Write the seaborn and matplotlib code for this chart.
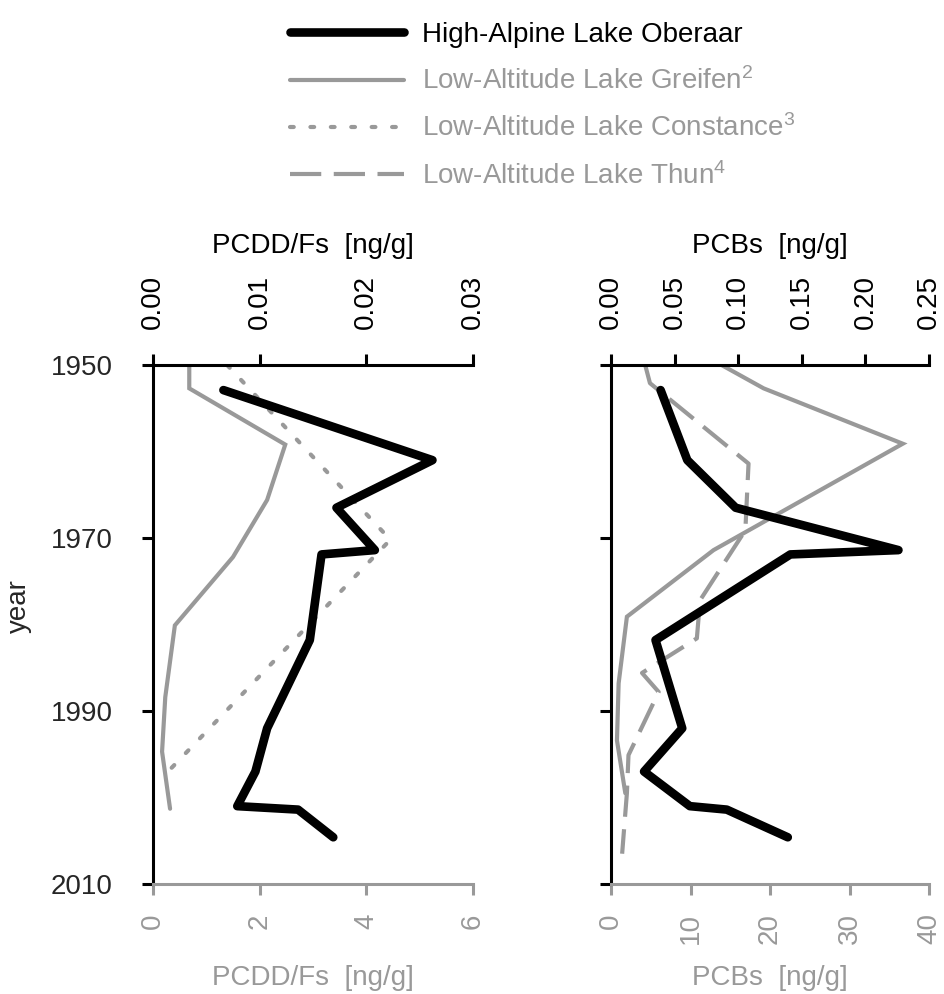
import numpy as np
import pandas as pd
import matplotlib.pyplot as plt
import seaborn as sns

# -----------------------------
# DATA
# -----------------------------
oberaar_years = [1952.9, 1961.0, 1966.5, 1971.4, 1971.9, 1981.8, 1992.0, 1997.0, 2001.0, 2001.4, 2004.6]
oberaar_pcdd = [0.0066, 0.0262, 0.0172, 0.0208, 0.0158, 0.0147, 0.0107, 0.0096, 0.0079, 0.0136, 0.0169]
oberaar_pcb = [0.039, 0.060, 0.098, 0.226, 0.141, 0.035, 0.056, 0.026, 0.062, 0.091, 0.139]

greifen_pcdd_years = [1950.0, 1952.7, 1959.2, 1965.6, 1972.2, 1980.1, 1988.4, 1994.7, 2001.3]
greifen_pcdd = [0.68, 0.68, 2.48, 2.14, 1.50, 0.41, 0.23, 0.17, 0.32]

constance_years = [1950.0, 1970.2, 1997.4]
constance_pcdd = [1.39, 4.45, 0.22]

greifen_pcb_years = [1950.0, 1952.7, 1959.1, 1971.4, 1979.1, 1986.8, 1993.4, 1999.5]
greifen_pcb = [13.9, 19.2, 36.7, 12.9, 2.0, 0.96, 0.75, 1.8]

thun_years = [1950.0, 1952.1, 1961.4, 1969.1, 1977.2, 1981.6, 1985.6, 1987.8, 1995.1, 1999.5, 2006.5]
thun_pcb = [4.3, 4.9, 17.3, 16.9, 11.2, 10.8, 3.9, 6.0, 2.2, 2.0, 1.4]

year_ticks = [1950, 1970, 1990, 2010]
pcdd_top_ticks = [0.00, 0.01, 0.02, 0.03]
pcdd_bottom_ticks = [0, 2, 4, 6]
pcb_top_ticks = [0.00, 0.05, 0.10, 0.15, 0.20, 0.25]
pcb_bottom_ticks = [0, 10, 20, 30, 40]

labels = ["High-Alpine Lake Oberaar",
          "Low-Altitude Lake Greifen$^{2}$",
          "Low-Altitude Lake Constance$^{3}$",
          "Low-Altitude Lake Thun$^{4}$"]

# -----------------------------
# STYLE
# -----------------------------
sns.set_style("white")
plt.rcParams['font.family'] = ['Liberation Sans', 'DejaVu Sans']
plt.rcParams['mathtext.fontset'] = 'custom'
plt.rcParams['mathtext.rm'] = 'Liberation Sans'
plt.rcParams['mathtext.it'] = 'Liberation Sans'

GRAY = '#999999'
BLACK = '#000000'
FS = 20

thick = dict(color=BLACK, lw=6.2, solid_capstyle='round', solid_joinstyle='round')
thin = dict(color=GRAY, lw=3.0, solid_joinstyle='miter')
dotted = dict(color=GRAY, lw=3.0, linestyle=(0, (0.9, 4.0)), dash_capstyle='round')
dashed = dict(color=GRAY, lw=3.0, linestyle=(0, (7.5, 3.0)))

fig = plt.figure(figsize=(9.44, 9.94), dpi=100)
ax1 = fig.add_axes([153 / 944, 1 - 884 / 994, 320 / 944, 519 / 994])
ax2 = fig.add_axes([611 / 944, 1 - 884 / 994, 318 / 944, 519 / 994])


def line(ax, x, y, **kw):
    df = pd.DataFrame({'x': x, 'y': y})
    sns.lineplot(data=df, x='x', y='y', sort=False, estimator=None,
                 orient='y', ax=ax, **kw)


def style_axes(ax, axt, bx, tx, bticks, tticks, label, show_year):
    ax.set_ylim(2010, 1950)
    ax.set_yticks(year_ticks)
    ax.set_xlim(bx)
    axt.set_xlim(tx)
    ax.set_xticks(bticks)
    ax.set_xticklabels([str(t) for t in bticks])
    axt.set_xticks(tticks)
    axt.set_xticklabels(['{:.2f}'.format(t) for t in tticks])

    for s in ['top', 'right']:
        ax.spines[s].set_visible(False)
    for s in ['bottom', 'left', 'right']:
        axt.spines[s].set_visible(False)
    ax.spines['left'].set_color(BLACK)
    ax.spines['left'].set_linewidth(2.2)
    ax.spines['bottom'].set_color(GRAY)
    ax.spines['bottom'].set_linewidth(2.2)
    axt.spines['top'].set_color(BLACK)
    axt.spines['top'].set_linewidth(2.2)

    ax.tick_params(axis='x', bottom=True, direction='out', length=8, width=2.2,
                   color=GRAY, labelcolor=GRAY, labelsize=FS, labelrotation=90, pad=13)
    axt.tick_params(axis='x', top=True, direction='out', length=8, width=2.2,
                    color=BLACK, labelcolor=BLACK, labelsize=FS, labelrotation=90, pad=18)
    ax.tick_params(axis='y', left=True, direction='out', length=8, width=2.2,
                   color=BLACK, labelsize=FS, pad=21, labelleft=show_year)
    axt.tick_params(axis='y', left=False, right=False, labelleft=False, labelright=False)

    ax.set_xlabel(label, fontsize=FS, color=GRAY)
    ax.xaxis.set_label_coords(0.5, -0.156)
    axt.set_xlabel(label, fontsize=FS, color=BLACK, labelpad=16)
    if show_year:
        ax.set_ylabel('year', fontsize=FS)
        ax.yaxis.set_label_coords(-0.378, 0.536)
    else:
        ax.set_ylabel('')
    axt.set_ylabel('')


# -----------------------------
# LEFT PANEL: PCDD/Fs
# -----------------------------
ax1t = ax1.twiny()
line(ax1, greifen_pcdd, greifen_pcdd_years, **thin)
line(ax1, constance_pcdd, constance_years, **dotted)
line(ax1t, oberaar_pcdd, oberaar_years, **thick)
style_axes(ax1, ax1t, (0, 6), (0, 0.03), pcdd_bottom_ticks, pcdd_top_ticks,
           'PCDD/Fs  [ng/g]', True)

# -----------------------------
# RIGHT PANEL: PCBs
# -----------------------------
ax2t = ax2.twiny()
line(ax2, greifen_pcb, greifen_pcb_years, **thin)
line(ax2, thun_pcb, thun_years, **dashed)
line(ax2t, oberaar_pcb, oberaar_years, **thick)
style_axes(ax2, ax2t, (0, 40), (0, 0.25), pcb_bottom_ticks, pcb_top_ticks,
           'PCBs  [ng/g]', False)

# -----------------------------
# LEGEND
# -----------------------------
handles = [ax1t.lines[0], ax1.lines[0], ax1.lines[1], ax2.lines[1]]
leg = fig.legend(handles, labels, loc='upper left',
                 bbox_to_anchor=(290 / 944, 1 - 22 / 994), frameon=False,
                 fontsize=20, handlelength=4.1, handletextpad=0.65,
                 labelspacing=0.7, borderpad=0, borderaxespad=0)
for txt, c in zip(leg.get_texts(), [BLACK, GRAY, GRAY, GRAY]):
    txt.set_color(c)

fig.savefig('out.png', dpi=100)
